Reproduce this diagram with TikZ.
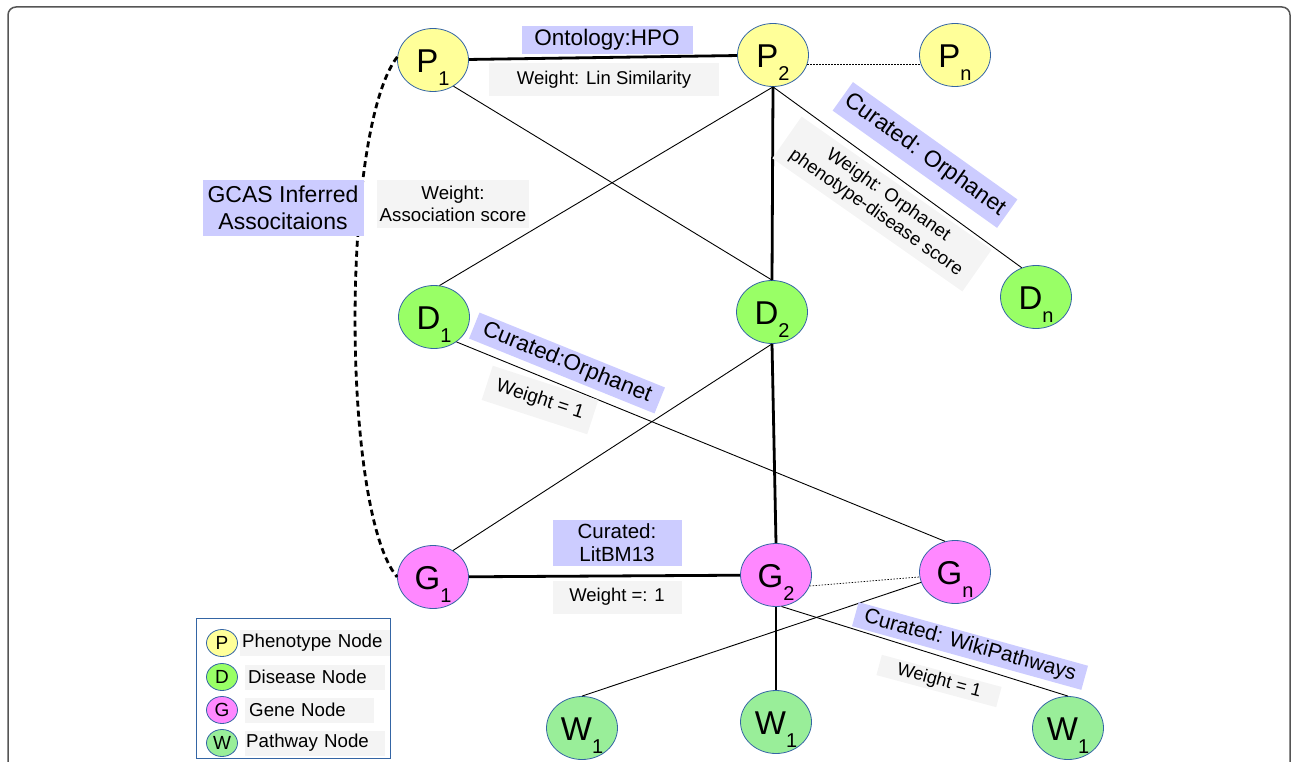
\documentclass[tikz,border=0pt]{standalone}
\usepackage{fontspec}
\setmainfont{Liberation Sans}
\usetikzlibrary{shapes.geometric}
\definecolor{pY}{HTML}{FFFF99}
\definecolor{dG}{HTML}{99FF66}
\definecolor{gP}{HTML}{FF88FF}
\definecolor{wG}{HTML}{99EE99}
\definecolor{nb}{HTML}{3465A4}
\definecolor{lb}{HTML}{CCCCFF}
\definecolor{lg}{HTML}{F4F4F4}
\definecolor{fr}{HTML}{555555}
\newcommand{\fs}[2]{\fontsize{#1}{#2}\selectfont}
\newcommand{\nlab}[2]{{\fs{33}{33}#1}\raisebox{-13pt}{\fs{20}{20}#2}}
\begin{document}
\begin{tikzpicture}[x=1pt,y=-1pt,
  every node/.style={inner sep=0pt},
  nd/.style={ellipse, draw=nb, line width=0.8pt, minimum width=71pt, minimum height=63pt, text height=31pt, text depth=6pt},
  lnd/.style={ellipse, draw=nb, line width=0.8pt, minimum width=31pt, minimum height=27pt, font=\fs{19}{19}},
  bbox/.style={fill=lb, align=center},
  gbox/.style={fill=lg, align=center},
  thinE/.style={line width=0.9pt},
  thickE/.style={line width=2.8pt},
  dotE/.style={line width=0.7pt, dash pattern=on 1.5pt off 1.5pt},
  gcas/.style={line width=2.8pt, dash pattern=on 6pt off 4pt}
]
\useasboundingbox (0,0) rectangle (1292,762);
\clip (0,0) rectangle (1292,762);
\draw[fr, line width=1.5pt, rounded corners=8pt] (8,7) rectangle (1290,800);

% nodes
\node[nd, fill=pY] (P1) at (433,60) {\nlab{P}{1}};
\node[nd, fill=pY] (P2) at (773,55) {\nlab{P}{2}};
\node[nd, fill=pY] (Pn) at (955,55) {\nlab{P}{n}};
\node[nd, fill=dG] (D1) at (434,317) {\nlab{D}{1}};
\node[nd, fill=dG] (D2) at (772,312) {\nlab{D}{2}};
\node[nd, fill=dG] (Dn) at (1036,297) {\nlab{D}{n}};
\node[nd, fill=gP] (G1) at (433,577) {\nlab{G}{1}};
\node[nd, fill=gP] (G2) at (776,575) {\nlab{G}{2}};
\node[nd, fill=gP] (Gn) at (955,572) {\nlab{G}{n}};
\node[nd, fill=wG] (WA) at (582,728) {\nlab{W}{1}};
\node[nd, fill=wG] (WB) at (776,722) {\nlab{W}{1}};
\node[nd, fill=wG] (WC) at (1068,728) {\nlab{W}{1}};

% edges
\draw[thickE] (P1) -- (P2);
\draw[dotE] (P2.-15) -- (Pn.195);
\draw[thinE] (P1.-52) -- (D2.north);
\draw[thinE] (P2.south) -- (D1.80);
\draw[thinE] (P2.south) -- (Dn.116);
\draw[thickE] (P2.south) -- (D2.north);
\draw[thinE] (D1.-48) -- (Gn.108);
\draw[thinE] (D2.south) -- (G1.53);
\draw[thickE] (D2.south) -- (G2.north);
\draw[thickE] (G1) -- (G2);
\draw[dotE] (G2.-18) -- (Gn.188);
\draw[thickE] (G2.south) -- (WB.north);
\draw[thinE] (Gn.197) -- (WA.north);
\draw[thinE] (G2.-80) -- (WC.north);
\draw[gcas] (P1.175) .. controls (341,130) and (341,510) .. (G1.west);

% labels
\node[bbox, minimum width=171pt, minimum height=28pt, font=\fs{22.5}{26}] (lHPO) at (607,40) {Ontology:HPO};
\node[gbox, minimum width=230pt, minimum height=33pt, font=\fs{18.5}{22}] (wLin) at (604,80) {Weight: Lin Similarity};
\node[bbox, minimum width=161pt, minimum height=56pt, font=\fs{23}{26.5}] (lGCAS) at (283,208) {GCAS Inferred\\Associtaions};
\node[gbox, minimum width=152pt, minimum height=48pt, font=\fs{18.7}{22}] (wAss) at (453,204) {Weight:\\Association score};
\node[bbox, rotate=-35.5, minimum width=202pt, minimum height=35pt, font=\fs{23}{26}] (lOrph1) at (925,155) {Curated: Orphanet};
\node[gbox, rotate=-35, minimum width=232pt, minimum height=51pt, font=\fs{18.5}{21.5}] (wOrph1) at (882,204) {Weight: Orphanet\\phenotype-disease score};
\node[bbox, rotate=-22, minimum width=200pt, minimum height=28pt, font=\fs{22.5}{26}] (lOrph2) at (567,363) {Curated:Orphanet};
\node[gbox, rotate=-18, minimum width=111pt, minimum height=36pt, font=\fs{19}{22}] (wOne1) at (540,400) {Weight = 1};
\node[bbox, minimum width=129pt, minimum height=46pt, font=\fs{20.5}{23}] (lLit) at (617,543) {Curated:\\LitBM13};
\node[gbox, minimum width=129pt, minimum height=33pt, font=\fs{18.5}{21}] (wLit) at (617,597) {Weight =: 1};
\node[bbox, rotate=-15.5, minimum width=238pt, minimum height=25pt, font=\fs{21}{24}] (lWiki) at (970,646) {Curated: WikiPathways};
\node[gbox, rotate=-15, minimum width=124pt, minimum height=21pt, font=\fs{18}{21}] (wOne2) at (939,681) {Weight = 1};

% legend
\draw[nb, line width=0.9pt] (196,618) rectangle (390,758);
\node[gbox, anchor=west, minimum width=150pt, minimum height=26pt, text width=148pt, align=left, font=\fs{18.7}{21}] (tP) at (240,643) {\hspace{1pt}Phenotype Node};
\node[gbox, anchor=west, minimum width=140pt, minimum height=25pt, text width=138pt, align=left, font=\fs{18.7}{21}] (tD) at (245,677) {\hspace{2pt}Disease Node};
\node[gbox, anchor=west, minimum width=129pt, minimum height=25pt, text width=127pt, align=left, font=\fs{18.7}{21}] (tG) at (245,710) {\hspace{3pt}Gene Node};
\node[gbox, anchor=west, minimum width=140pt, minimum height=25pt, text width=138pt, align=left, font=\fs{18.7}{21}] (tW) at (245,743) {\hspace{0pt}Pathway Node};
\node[lnd, fill=pY] (lP) at (222,643) {P};
\node[lnd, fill=dG] (lD) at (222,677) {D};
\node[lnd, fill=gP] (lG) at (222,710) {G};
\node[lnd, fill=wG] (lW) at (222,743) {W};
\end{tikzpicture}
\end{document}
